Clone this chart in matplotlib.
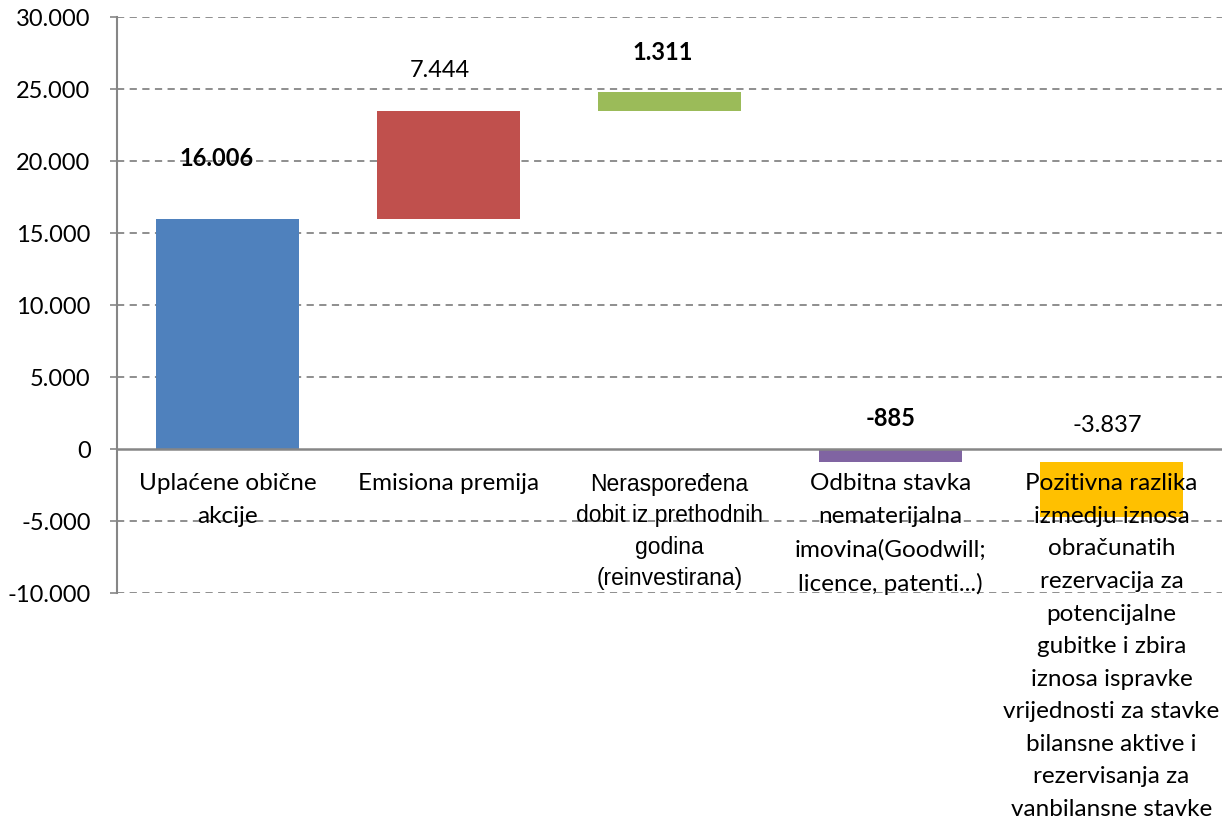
import matplotlib.pyplot as plt
from matplotlib.ticker import FuncFormatter


categories = [
    "Uplaćene obične\nakcije",
    "Emisiona premija",
    "Neraspoređena\ndobit iz prethodnih\ngodina\n(reinvestirana)",
    "Odbitna stavka\nnematerijalna\nimovina(Goodwill;\nlicence, patenti...)",
    "Pozitivna razlika\nizmedju iznosa\nobračunatih\nrezervacija za\npotencijalne\ngubitke i zbira\niznosa ispravke\nvrijednosti za stavke\nbilansne aktive i\nrezervisanja za\nvanbilansne stavke",
]
values = [16006, 7444, 1311, -885, -3837]
starts = [0, 16006, 23450, 0, -885]
value_labels = ["16.006", "7.444", "1.311", "-885", "-3.837"]
bold_labels = [True, False, True, True, False]

colors = ["#4F81BD", "#C0504D", "#9BBB59", "#8064A2", "#FFC000"]
label_y = [20200, 26300, 27500, 2150, 1650]
label_dx = [-0.05, -0.04, -0.03, 0.0, -0.02]

FONT = ["Lato", "DejaVu Sans"]
GRID = "#868686"


def thousands(v, _pos):
    return f"{int(v):,}".replace(",", ".")


def main() -> None:
    fig = plt.figure(figsize=(12.28, 8.23), dpi=100)
    ax = fig.add_axes([117 / 1228, 230 / 823, 1105 / 1228, 576 / 823])

    x = list(range(len(values)))
    ax.bar(x, values, width=0.643, bottom=starts, color=colors, zorder=2)

    ax.set_xlim(-0.5, len(values) - 0.5)
    ax.set_ylim(-10000, 30000)
    ax.set_yticks(range(-10000, 30001, 5000))
    ax.yaxis.set_major_formatter(FuncFormatter(thousands))
    for t in ax.get_yticklabels():
        t.set_fontfamily(FONT)
        t.set_fontsize(17)
    ax.tick_params(axis="y", length=5, width=1.2, color=GRID, pad=14)
    ax.set_xticks([])

    for y in range(-10000, 30001, 5000):
        if y == 0:
            continue
        ax.axhline(y, color=GRID, linestyle=(0, (4, 3)), linewidth=1.3, zorder=1)
    ax.axhline(0, color=GRID, linewidth=1.8, zorder=3)

    for side in ("top", "right", "bottom"):
        ax.spines[side].set_visible(False)
    ax.spines["left"].set_color(GRID)
    ax.spines["left"].set_linewidth(1.5)

    for i, (txt, bold) in enumerate(zip(value_labels, bold_labels)):
        ax.text(i + label_dx[i], label_y[i], txt, ha="center", va="center",
                fontsize=17, fontweight="bold" if bold else "normal",
                family=FONT, zorder=4)

    for i, cat in enumerate(categories):
        if i == 2:
            fam, size, spacing = ["Liberation Sans", "DejaVu Sans"], 16.5, 1.45
        else:
            fam, size, spacing = FONT, 17.5, 1.68
        ax.annotate(cat, xy=(i, 0), xytext=(0, -17.5), textcoords="offset points",
                    ha="center", va="top", multialignment="center",
                    fontsize=size, family=fam, linespacing=spacing,
                    annotation_clip=False, zorder=4)

    fig.savefig("out.png", dpi=100)
    plt.close(fig)


if __name__ == "__main__":
    main()
